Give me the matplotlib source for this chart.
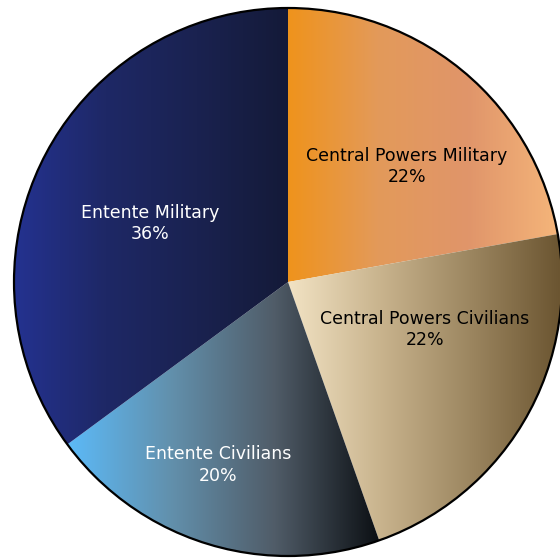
import matplotlib
matplotlib.use("Agg")
import matplotlib.pyplot as plt
import numpy as np
from matplotlib.colors import LinearSegmentedColormap
from matplotlib.patches import Circle

# ---- data ----
categories = ["Central Powers Military", "Central Powers Civilians",
              "Entente Civilians", "Entente Military"]
shares = [22.2, 22.4, 20.3, 35.1]
pct_labels = ["22%", "22%", "20%", "36%"]

# ---- styling ----
gradients = [
    ["#ef931c", "#e39a5a", "#e0956a", "#f5b57a"],
    ["#f2e3c4", "#c9b48e", "#9c8660", "#6a5430"],
    ["#5cbaf8", "#6290ac", "#505c68", "#0c1014"],
    ["#243290", "#1e2866", "#1a2250", "#141a38"],
]
text_colors = ["black", "black", "white", "white"]
label_xy = [(0.434, 0.423), (0.50, -0.175), (-0.255, -0.668), (-0.504, 0.215)]

fig = plt.figure(figsize=(5.6, 5.6), dpi=100)
ax = fig.add_axes([0, 0, 1, 1])

wedges, _ = ax.pie(shares, startangle=90, counterclock=False, radius=1,
                   wedgeprops=dict(linewidth=0))

grad = np.linspace(0, 1, 256).reshape(1, -1)
for w, cols in zip(wedges, gradients):
    ext = w.get_path().get_extents()
    cmap = LinearSegmentedColormap.from_list("g", cols)
    im = ax.imshow(grad, extent=[ext.x0, ext.x1, ext.y0, ext.y1],
                   cmap=cmap, aspect="auto", interpolation="bilinear", zorder=1)
    im.set_clip_path(w)
    w.set_facecolor("none")

outline = Circle(wedges[0].center, wedges[0].r, facecolor="none",
                 edgecolor="black", linewidth=1.6, zorder=3)
ax.add_patch(outline)

for (x, y), cat, pct, tc in zip(label_xy, categories, pct_labels, text_colors):
    ax.text(x, y, f"{cat}\n{pct}", ha="center", va="center", color=tc,
            fontsize=12.5, family="DejaVu Sans", linespacing=1.22, zorder=4)

ax.set_aspect("equal")
ax.set_xlim(-288 / 274, (560 - 288) / 274)
ax.set_ylim(-(560 - 282) / 274, 282 / 274)
ax.axis("off")

fig.savefig("out.png", dpi=100, facecolor="white")
